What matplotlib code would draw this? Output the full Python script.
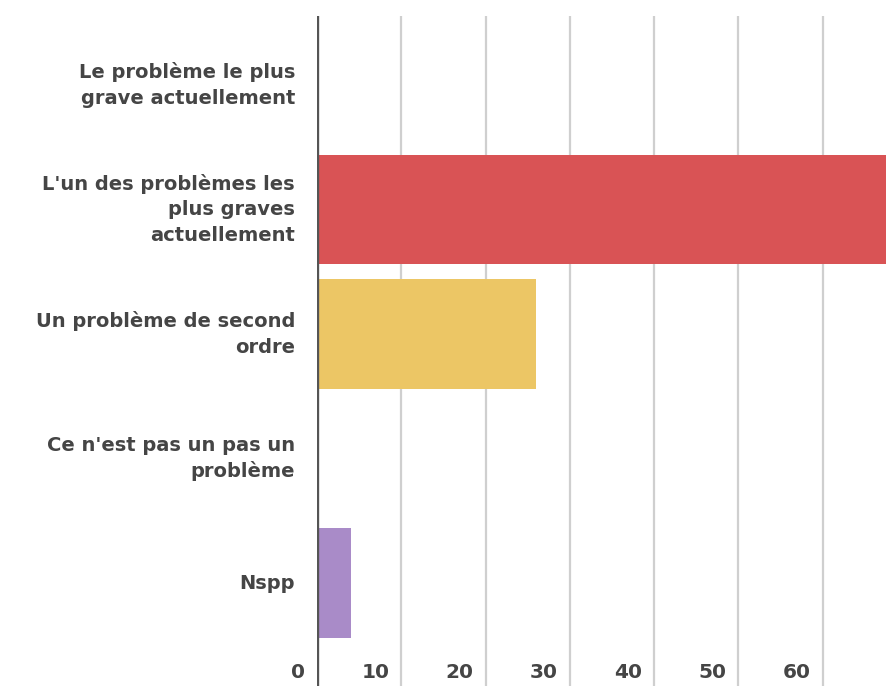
import matplotlib
matplotlib.use("Agg")
import matplotlib.pyplot as plt
import matplotlib.transforms as mtransforms

# Réponses (en %) par modalité
categories = [
    "Le problème le plus\ngrave actuellement",
    "L'un des problèmes les\nplus graves\nactuellement",
    "Un problème de second\nordre",
    "Ce n'est pas un pas un\nproblème",
    "Nspp",
]
valeurs = [0, 69, 26, 0, 4]
couleurs = ["#d95355", "#d95355", "#ecc665", "#a98bc8", "#a98bc8"]
graduations = [0, 10, 20, 30, 40, 50, 60]

TEXTE = "#454545"

fig = plt.figure(figsize=(8.86, 6.86), dpi=100)
ax = fig.add_axes([317 / 886, 0.0, 1 - 317 / 886, 1 - 16 / 686])

y = list(range(len(categories)))
ax.barh(y, valeurs, height=0.88, color=couleurs, zorder=2)

ax.set_xlim(0, 67.5)
ax.set_ylim(4.827, -0.554)

# quadrillage vertical et axe du zéro
for g in graduations[1:]:
    ax.axvline(g, color="#cfcfcf", lw=1.6, zorder=1)
ax.axvline(0, color="#555555", lw=2.4, zorder=3)

for s in ax.spines.values():
    s.set_visible(False)
ax.set_xticks([])
ax.set_yticks([])

# libellés des catégories à gauche
gauche = mtransforms.offset_copy(ax.transData, fig=fig, x=-22, y=0, units="dots")
for yi, cat in zip(y, categories):
    ax.text(0, yi, cat, transform=gauche, ha="right", va="center",
            fontsize=14, fontweight="bold", color=TEXTE, linespacing=1.42,
            multialignment="right", clip_on=False)

# valeurs de l'axe, posées à gauche de chaque ligne de grille
decal = mtransforms.offset_copy(ax.transData, fig=fig, x=-12, y=0, units="dots")
for g in graduations:
    ax.text(g, 4.715, str(g), transform=decal, ha="right", va="center",
            fontsize=14.5, fontweight="bold", color=TEXTE, clip_on=False)

fig.savefig("out.png", dpi=100)
